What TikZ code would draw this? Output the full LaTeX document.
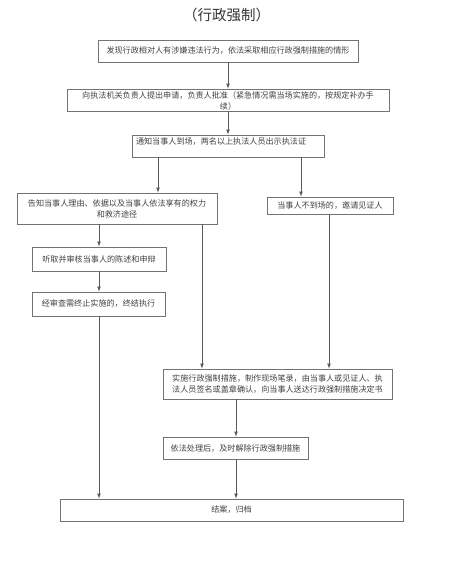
\documentclass[tikz,border=0pt]{standalone}
\usepackage{fontspec}
\setmainfont{Noto Sans CJK SC}
\begin{document}
\begin{tikzpicture}
				[x=1pt,y=-1pt,>=latex,
				box/.style={rectangle,draw=black!55,line width=0.8pt,text=black!75,font=\fontsize{8.1}{11}\selectfont,inner sep=1pt},
				link/.style={draw=black!65,line width=0.7pt}]
				\useasboundingbox (0,0) rectangle (470,572);
				\node[name=title,font=\fontsize{14.5}{16}\selectfont,text=black!80] at (226.5,15) {（行政强制）};
				\node[box,name=n1,minimum width=260pt,minimum height=22pt] at (228,51) {发现行政相对人有涉嫌违法行为，依法采取相应行政强制措施的情形};
				\node[box,name=n2,minimum width=322pt,minimum height=22pt,text width=312pt,align=center,text height=6pt,text depth=9pt] at (228,100) {向执法机关负责人提出申请，负责人批准（紧急情况需当场实施的，按规定补办手\\续）};
				\node[box,name=n3,minimum width=192pt,minimum height=22pt,text width=184pt,align=left,text height=6pt,text depth=8pt] at (228,146) {通知当事人到场，两名以上执法人员出示执法证};
				\node[box,name=n4,minimum width=200pt,minimum height=31pt,text width=194pt,align=center] at (117,208.5) {告知当事人理由、依据以及当事人依法享有的权力\\和救济途径};
				\node[box,name=n5,minimum width=126pt,minimum height=17pt] at (330,205.5) {当事人不到场的，邀请见证人};
				\node[box,name=n6,minimum width=134pt,minimum height=24pt] at (99,259) {听取并审核当事人的陈述和申辩};
				\node[box,name=n7,minimum width=133pt,minimum height=24pt] at (98.5,304) {经审查需终止实施的，终结执行};
				\node[box,name=n8,minimum width=229pt,minimum height=30pt,text width=220pt,align=center] at (277.5,384) {实施行政强制措施，制作现场笔录，由当事人或见证人、执\\法人员签名或盖章确认，向当事人送达行政强制措施决定书};
				\node[box,name=n9,minimum width=145pt,minimum height=22pt] at (235.5,448) {依法处理后，及时解除行政强制措施};
				\node[box,name=n10,minimum width=343pt,minimum height=22pt] at (231.5,510) {结案，归档};
				\draw[link,->] (n1)--(n2);
				\draw[link,->] (n2)--(n3);
				\draw[link,->] (n3.south -| 158,0)--(n4.north -| 158,0);
				\draw[link,->] (n3.south -| 301,0)--(n5.north -| 301,0);
				\draw[link,->] (n4.south -| 99,0)--(n6.north -| 99,0);
				\draw[link,->] (n4.south -| 202,0)--(n8.north -| 202,0);
				\draw[link,->] (n5.south -| 329,0)--(n8.north -| 329,0);
				\draw[link,->] (n6.south -| 99,0)--(n7.north -| 99,0);
				\draw[link,->] (n7.south -| 99,0)--(n10.north -| 99,0);
				\draw[link,->] (n8.south -| 236,0)--(n9.north -| 236,0);
				\draw[link,->] (n9.south -| 236,0)--(n10.north -| 236,0);
			\end{tikzpicture}
\end{document}
